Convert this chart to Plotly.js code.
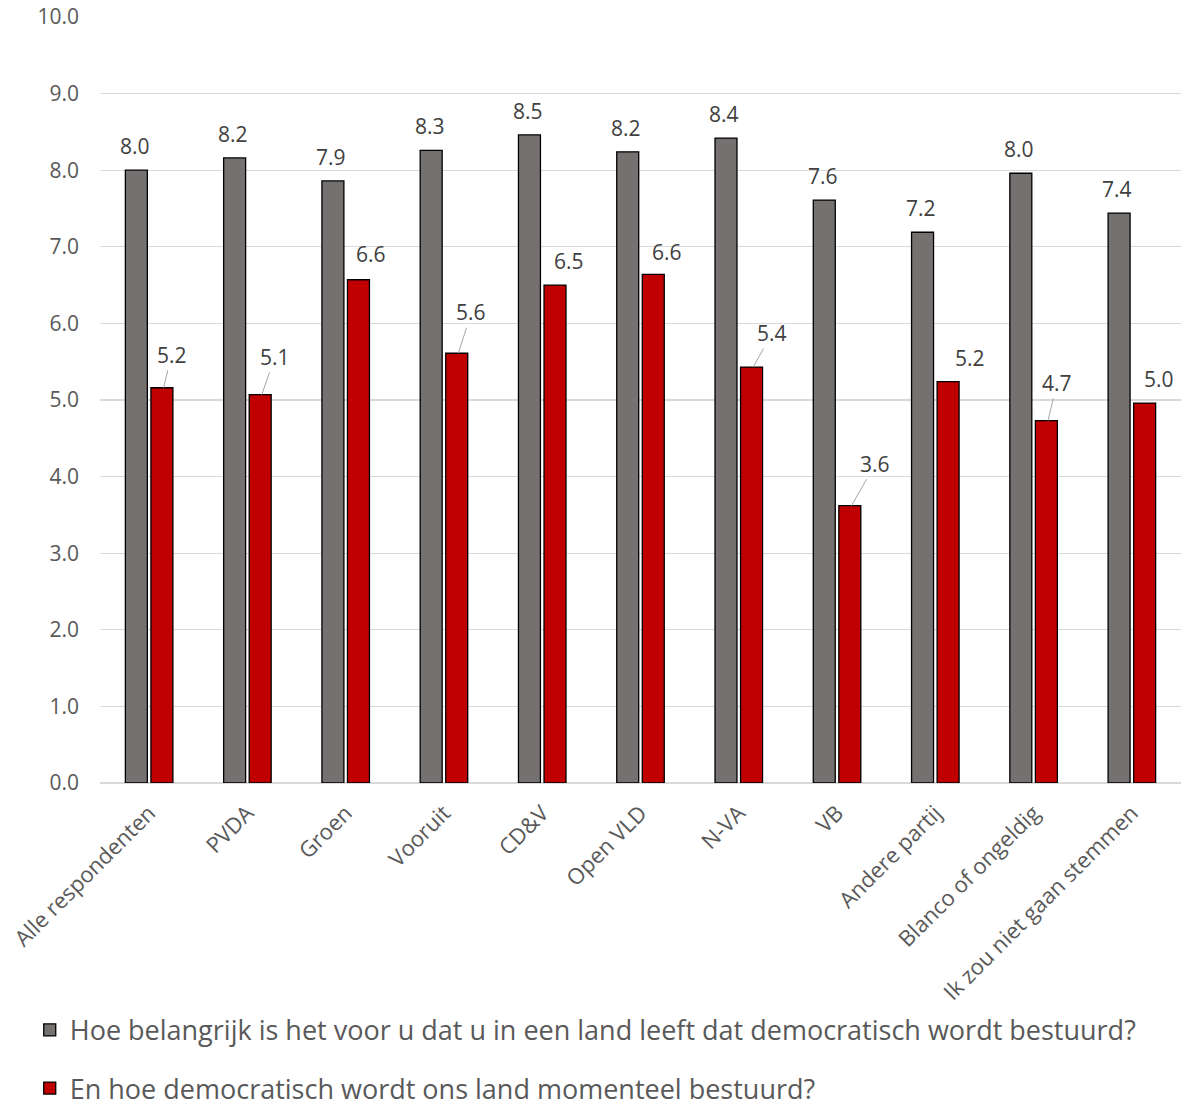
<!DOCTYPE html>
<html><head><meta charset="utf-8">
<script src="https://cdn.plot.ly/plotly-3.0.1.min.js"></script>
<style>html,body{margin:0;padding:0;background:#fff}</style>
</head><body>
<div id="chart" style="width:1181px;height:1108px"></div>
<script>
const categories = ["Alle respondenten","PVDA","Groen","Vooruit","CD&V","Open VLD","N-VA","VB","Andere partij","Blanco of ongeldig","Ik zou niet gaan stemmen"];
const seriesNames = ["Hoe belangrijk is het voor u dat u in een land leeft dat democratisch wordt bestuurd?","En hoe democratisch wordt ons land momenteel bestuurd?"];
const importance = [8.00,8.16,7.86,8.26,8.46,8.24,8.42,7.61,7.19,7.96,7.44];
const current = [5.16,5.07,6.57,5.61,6.50,6.64,5.43,3.62,5.24,4.73,4.96];
const yTicks = [0,1,2,3,4,5,6,7,8,9,10];

// label placement (pixels) for the red series labels: [dx, dy, leader line]
const redOffsets = [[8,-33,true],[13,-38,true],[11,-26,false],[13,-41,true],[12,-24,false],[12,-22,false],[19,-34,true],[24,-42,true],[20,-24,false],[9,-38,true],[13,-24,false]];

const font = "'Open Sans', sans-serif";
const traces = [
  {type:'bar', name:seriesNames[0], x:categories, y:importance, marker:{color:'#767171', line:{color:'#000', width:1.3}}, legendgroup:'a', hoverinfo:'y'},
  {type:'bar', name:seriesNames[1], x:categories, y:current, marker:{color:'#C00000', line:{color:'#000', width:1.3}}, legendgroup:'b', hoverinfo:'y'}
];
const off = 0.147;
const annotations = [];
importance.forEach((v,i)=>{
  annotations.push({x:i-off, y:v, xref:'x', yref:'y', text:v.toFixed(1), showarrow:false, yanchor:'middle', yshift:24, font:{family:font, size:21, color:'#404040'}});
});
current.forEach((v,i)=>{
  const o = redOffsets[i];
  annotations.push({x:i+off, y:v, xref:'x', yref:'y', text:v.toFixed(1), showarrow:true, arrowhead:0, arrowwidth:1, standoff:0,
    arrowcolor: o[2] ? '#a6a6a6' : 'rgba(0,0,0,0)', ax:o[0], ay:o[1], font:{family:font, size:21, color:'#404040'}});
});
const layout = {
  width:1181, height:1108,
  margin:{l:100, r:0, t:17, b:325, autoexpand:false},
  paper_bgcolor:'#fff', plot_bgcolor:'#fff',
  barmode:'group', bargap:0.48, bargroupgap:0.14,
  font:{family:font, color:'#595959'},
  xaxis:{type:'category', automargin:false, tickangle:-45, tickfont:{family:font, size:22, color:'#595959'}, showgrid:false, zeroline:false, showline:false, ticks:'', ticklabelstandoff:12},
  yaxis:{automargin:false, range:[0,10], tickvals:yTicks, ticktext:yTicks.map(t=>t.toFixed(1)), tickfont:{family:font, size:21, color:'#595959'}, gridcolor:'#d9d9d9', gridwidth:1.3, zeroline:true, zerolinecolor:'#d9d9d9', zerolinewidth:1.3, showline:false, ticks:'', ticklabelstandoff:20},
  showlegend:true,
  legend:{orientation:'v', x:-0.065, xanchor:'left', y:-0.291, yanchor:'top', font:{family:font, size:27, color:'#595959'}, tracegroupgap:20, itemwidth:30, bgcolor:'rgba(0,0,0,0)'},
  annotations:annotations
};
Plotly.newPlot('chart', traces, layout, {displayModeBar:false, staticPlot:true});
</script>
</body></html>
